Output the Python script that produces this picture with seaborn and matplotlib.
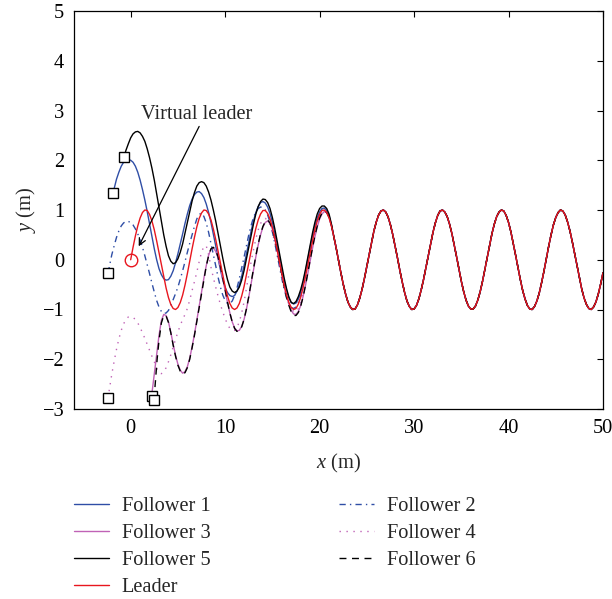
import numpy as np
import matplotlib
matplotlib.use("Agg")
import matplotlib.pyplot as plt
import seaborn as sns

# ---------------- data ----------------
# Leader: samples at x = 0, 0.5, ..., 50 and at the quarter points between them
leader_half = [0.00, 0.48, 0.84, 1.00, 0.91, 0.60, 0.14, -0.35, -0.76, -0.98,
               -0.96, -0.71, -0.28, 0.22, 0.66, 0.94, 0.99, 0.80, 0.41, -0.08,
               -0.54, -0.88, -1.00, -0.88, -0.54, -0.07, 0.42, 0.80, 0.99, 0.93,
               0.65, 0.20, -0.29, -0.71, -0.96, -0.98, -0.75, -0.34, 0.15, 0.61,
               0.91, 1.00, 0.84, 0.47, -0.01, -0.49, -0.85, -1.00, -0.91, -0.59,
               -0.13, 0.36, 0.76, 0.98, 0.96, 0.70, 0.27, -0.22, -0.66, -0.94,
               -0.99, -0.79, -0.40, 0.09, 0.55, 0.89, 1.00, 0.87, 0.53, 0.06,
               -0.43, -0.81, -0.99, -0.93, -0.64, -0.19, 0.30, 0.72, 0.96, 0.98,
               0.75, 0.33, -0.16, -0.62, -0.92, -1.00, -0.83, -0.46, 0.02, 0.50,
               0.85, 1.00, 0.90, 0.58, 0.12, -0.37, -0.77, -0.98, -0.95, -0.69,
               -0.26]
leader_quarter = [0.25, 0.68, 0.95, 0.99, 0.78, 0.38, -0.11, -0.57, -0.90, -1.00,
                  -0.86, -0.51, -0.03, 0.45, 0.83, 1.00, 0.92, 0.62, 0.17, -0.32,
                  -0.73, -0.97, -0.97, -0.73, -0.31, 0.18, 0.63, 0.92, 0.99, 0.82,
                  0.44, -0.05, -0.52, -0.86, -1.00, -0.89, -0.56, -0.10, 0.39, 0.78,
                  0.99, 0.95, 0.68, 0.24, -0.26, -0.69, -0.95, -0.99, -0.77, -0.37,
                  0.12, 0.58, 0.90, 1.00, 0.86, 0.50, 0.03, -0.45, -0.83, -1.00,
                  -0.92, -0.61, -0.16, 0.33, 0.74, 0.98, 0.96, 0.72, 0.30, -0.19,
                  -0.64, -0.93, -0.99, -0.81, -0.43, 0.06, 0.53, 0.87, 1.00, 0.89,
                  0.56, 0.09, -0.40, -0.79, -0.99, -0.94, -0.67, -0.23, 0.27, 0.70,
                  0.95, 0.98, 0.76, 0.36, -0.13, -0.59, -0.90, -1.00, -0.85, -0.49]

# Followers: start point(s), values on a 0.5 grid (from g0 to 21.0) and the
# quarter points between them (up to 21.25); after that they ride on the leader.
f1_head = ([-1.87], [1.34])
f1_g0 = -1.5
f1_v = [1.62, 1.88, 2.00, 2.00, 1.88, 1.60, 1.20, 0.72, 0.22, -0.18,
        -0.38, -0.40, -0.22, 0.12, 0.52, 0.92, 1.22, 1.36, 1.33, 1.12,
        0.75, 0.28, -0.20, -0.56, -0.72, -0.72, -0.50, -0.12, 0.35, 0.78,
        1.07, 1.17, 1.06, 0.75, 0.30, -0.20, -0.62, -0.86, -0.87, -0.65,
        -0.25, 0.25, 0.68, 0.96, 1.04, 0.88]
f1_m = [1.76, 1.96, 2.01, 1.96, 1.76, 1.41, 0.97, 0.47, 0.00, -0.30,
        -0.41, -0.33, -0.06, 0.32, 0.73, 1.09, 1.31, 1.37, 1.25, 0.95,
        0.52, 0.03, -0.40, -0.66, -0.74, -0.63, -0.33, 0.11, 0.58, 0.95,
        1.15, 1.14, 0.93, 0.54, 0.05, -0.43, -0.77, -0.89, -0.79, -0.47,
        0.00, 0.48, 0.84, 1.03, 0.99, 0.70]

f2_head = ([-2.4], [-0.27])
f2_g0 = -2.0
f2_v = [0.10, 0.45, 0.68, 0.77, 0.75, 0.62, 0.40, 0.08, -0.28, -0.65,
        -0.95, -1.08, -1.02, -0.80, -0.55, -0.22, 0.15, 0.50, 0.82, 0.94,
        0.74, 0.33, -0.12, -0.55, -0.82, -0.88, -0.72, -0.38, 0.05, 0.50,
        0.85, 1.03, 1.05, 0.90, 0.56, 0.10, -0.38, -0.77, -0.96, -0.95,
        -0.72, -0.30, 0.18, 0.62, 0.92, 1.01, 0.85]
f2_m = [0.28, 0.58, 0.74, 0.77, 0.70, 0.52, 0.25, -0.10, -0.47, -0.82,
        -1.04, -1.07, -0.92, -0.68, -0.39, -0.04, 0.33, 0.67, 0.91, 0.87,
        0.55, 0.11, -0.35, -0.71, -0.88, -0.83, -0.57, -0.17, 0.28, 0.69,
        0.96, 1.06, 1.00, 0.75, 0.34, -0.14, -0.59, -0.89, -0.98, -0.86,
        -0.53, -0.06, 0.41, 0.79, 0.99, 0.96, 0.68]

f3_head = ([2.22, 2.5, 2.75, 3.0, 3.25, 3.5, 3.75],
           [-2.73, -2.30, -1.90, -1.52, -1.22, -1.10, -1.12])
f3_g0 = 4.0
f3_v = [-1.25, -1.70, -2.10, -2.28, -2.15, -1.75, -1.22, -0.65, -0.12, 0.22,
        0.17, -0.15, -0.62, -1.07, -1.37, -1.42, -1.20, -0.75, -0.20, 0.30,
        0.66, 0.78, 0.62, 0.22, -0.28, -0.72, -1.02, -1.10, -0.92, -0.52,
        -0.02, 0.46, 0.82, 0.97, 0.87]
f3_m = [-1.46, -1.92, -2.22, -2.25, -1.98, -1.50, -0.94, -0.37, 0.09, 0.24,
        0.04, -0.38, -0.86, -1.25, -1.43, -1.34, -1.00, -0.48, 0.06, 0.50,
        0.75, 0.73, 0.44, -0.02, -0.51, -0.89, -1.09, -1.04, -0.74, -0.28,
        0.23, 0.66, 0.92, 0.95, 0.69]

f4_head = ([-2.4], [-2.78])
f4_g0 = -2.0
f4_v = [-2.30, -1.80, -1.42, -1.20, -1.14, -1.20, -1.36, -1.58, -1.82, -2.05,
        -2.27, -2.25, -2.05, -1.75, -1.45, -1.20, -0.98, -0.62, -0.25, 0.15,
        0.28, -0.15, -0.55, -0.90, -1.18, -1.38, -1.42, -1.25, -0.85, -0.30,
        0.20, 0.60, 0.80, 0.80, 0.55, 0.12, -0.35, -0.75, -0.98, -1.05,
        -0.85, -0.45, 0.05, 0.52, 0.85, 0.98, 0.85]
f4_m = [-2.04, -1.59, -1.29, -1.15, -1.16, -1.27, -1.47, -1.70, -1.94, -2.18,
        -2.29, -2.17, -1.91, -1.60, -1.32, -1.10, -0.81, -0.44, -0.04, 0.27,
        0.10, -0.36, -0.73, -1.05, -1.30, -1.42, -1.36, -1.07, -0.58, -0.04,
        0.42, 0.73, 0.83, 0.70, 0.35, -0.12, -0.57, -0.89, -1.04, -0.98,
        -0.67, -0.20, 0.30, 0.71, 0.94, 0.95, 0.69]

f5_head = ([-0.71], [2.06])
f5_g0 = -0.5
f5_v = [2.20, 2.45, 2.57, 2.55, 2.38, 2.05, 1.60, 1.05, 0.50, 0.08,
        -0.08, 0.02, 0.32, 0.75, 1.18, 1.48, 1.57, 1.48, 1.20, 0.78,
        0.28, -0.20, -0.55, -0.66, -0.55, -0.22, 0.25, 0.72, 1.07, 1.22,
        1.15, 0.85, 0.38, -0.13, -0.58, -0.86, -0.84, -0.60, -0.20, 0.30,
        0.75, 1.03, 1.08, 0.92]
f5_m = [2.33, 2.53, 2.58, 2.48, 2.23, 1.84, 1.33, 0.77, 0.27, -0.03,
        -0.06, 0.15, 0.53, 0.97, 1.35, 1.55, 1.55, 1.36, 1.00, 0.53,
        0.03, -0.40, -0.63, -0.63, -0.41, 0.01, 0.49, 0.92, 1.17, 1.21,
        1.03, 0.63, 0.12, -0.37, -0.75, -0.88, -0.74, -0.42, 0.05, 0.54,
        0.92, 1.08, 1.03, 0.72]

f6_head = ([2.47, 2.6, 2.8, 3.0, 3.25, 3.5, 3.75],
           [-2.81, -2.50, -2.00, -1.62, -1.27, -1.12, -1.13])
f6_g0 = 4.0
f6_v = [-1.26, -1.72, -2.12, -2.30, -2.17, -1.77, -1.24, -0.67, -0.13, 0.22,
        0.19, -0.13, -0.60, -1.07, -1.38, -1.43, -1.20, -0.74, -0.18, 0.32,
        0.67, 0.80, 0.62, 0.20, -0.30, -0.75, -1.05, -1.12, -0.93, -0.52,
        0.00, 0.48, 0.84, 0.98, 0.86]
f6_m = [-1.47, -1.94, -2.24, -2.27, -2.00, -1.52, -0.96, -0.39, 0.08, 0.25,
        0.06, -0.36, -0.85, -1.25, -1.44, -1.35, -0.99, -0.46, 0.08, 0.52,
        0.77, 0.74, 0.43, -0.05, -0.54, -0.92, -1.12, -1.06, -0.75, -0.26,
        0.25, 0.68, 0.94, 0.95, 0.69]

labels = ["Follower 1", "Follower 2", "Follower 3", "Follower 4",
          "Follower 5", "Follower 6", "Leader"]
x_ticks = [0, 10, 20, 30, 40, 50]
y_ticks = [-3, -2, -1, 0, 1, 2, 3, 4, 5]

# ---------------- assemble ----------------
LX, LY = [], []
for k in range(len(leader_half)):
    LX.append(0.5 * k)
    LY.append(leader_half[k])
    if k < len(leader_quarter):
        LX.append(0.5 * k + 0.25)
        LY.append(leader_quarter[k])
TAIL = LX.index(21.5)


def build(head, g0, v, m):
    assert len(v) == len(m)
    xs, ys = list(head[0]), list(head[1])
    for k, (a, b) in enumerate(zip(v, m)):
        x = g0 + 0.5 * k
        xs += [x, x + 0.25]
        ys += [a, b]
    xs += LX[TAIL:]
    ys += LY[TAIL:]
    return np.array(xs), np.array(ys)


# ---------------- style ----------------
sns.set_style("white")
plt.rcParams["font.family"] = ["Liberation Serif", "DejaVu Serif"]
plt.rcParams["mathtext.fontset"] = "custom"
plt.rcParams["mathtext.it"] = "Liberation Serif:italic"
plt.rcParams["mathtext.rm"] = "Liberation Serif"
FS = 14.7

BLUE = "#2f4ea6"
MAG = "#c062b6"
RED = "#e8161e"
BLACK = "#000000"

fig = plt.figure(figsize=(6.12, 5.99), dpi=100)
ax = fig.add_axes([74 / 612, 1 - 409 / 599, (603 - 74) / 612, (409 - 11) / 599])

series = [
    (build(f1_head, f1_g0, f1_v, f1_m), BLUE, "-", labels[0]),
    (build(f2_head, f2_g0, f2_v, f2_m), BLUE, (0, (4.5, 3, 1, 3)), labels[1]),
    (build(f3_head, f3_g0, f3_v, f3_m), MAG, "-", labels[2]),
    (build(f4_head, f4_g0, f4_v, f4_m), MAG, (0, (1, 4)), labels[3]),
    (build(f5_head, f5_g0, f5_v, f5_m), BLACK, "-", labels[4]),
    (build(f6_head, f6_g0, f6_v, f6_m), BLACK, (0, (5, 4)), labels[5]),
]

for (X, Y), col, ls, lab in series:
    sns.lineplot(x=X, y=Y, ax=ax, color=col, linestyle=ls, linewidth=1.0,
                 label=lab, sort=False, estimator=None)

sns.lineplot(x=np.array(LX), y=np.array(LY), ax=ax, color=RED,
             linestyle="-", linewidth=1.0, label=labels[6], sort=False,
             estimator=None)

# start markers
for (X, Y), *_ in series:
    ax.plot([X[0]], [Y[0]], marker="s", ms=7, mfc="white", mec="black",
            mew=1.0, linestyle="none", zorder=5)
ax.plot([LX[0]], [LY[0]], marker="o", ms=9, mfc="none", mec=RED,
        mew=1.0, linestyle="none", zorder=5)

# annotation
ax.text(7.0, 2.92, "Virtual leader", fontsize=FS, ha="center", va="center")
ax.annotate("", xy=(0.85, 0.27), xytext=(7.25, 2.68),
            arrowprops=dict(arrowstyle="->", color="black", lw=0.9,
                            shrinkA=0, shrinkB=0, mutation_scale=12))

ax.set_xlim(-6, 50)
ax.set_ylim(-3, 5)
ax.set_xticks(x_ticks)
ax.set_yticks(y_ticks)
ax.tick_params(direction="in", length=4, width=0.8, labelsize=FS,
               top=True, right=True, pad=7, colors="black")
for s in ax.spines.values():
    s.set_visible(True)
    s.set_color("black")
    s.set_linewidth(0.9)

ax.set_xlabel("$x$ (m)", fontsize=FS, labelpad=10)
ax.set_ylabel("$y$ (m)", fontsize=FS, labelpad=3)

if ax.get_legend() is not None:
    ax.get_legend().remove()

handles, labs = ax.get_legend_handles_labels()
hmap = dict(zip(labs, handles))
order = ["Follower 1", "Follower 3", "Follower 5", "Leader",
         "Follower 2", "Follower 4", "Follower 6"]
fig.legend([hmap[l] for l in order], order, loc="upper left",
           bbox_to_anchor=(74 / 612, 1 - 497 / 599), ncol=2, frameon=False,
           fontsize=FS, handlelength=1.7, handletextpad=0.64,
           columnspacing=6.3, labelspacing=0.38, borderpad=0,
           borderaxespad=0)

fig.savefig("out.png", dpi=100)
